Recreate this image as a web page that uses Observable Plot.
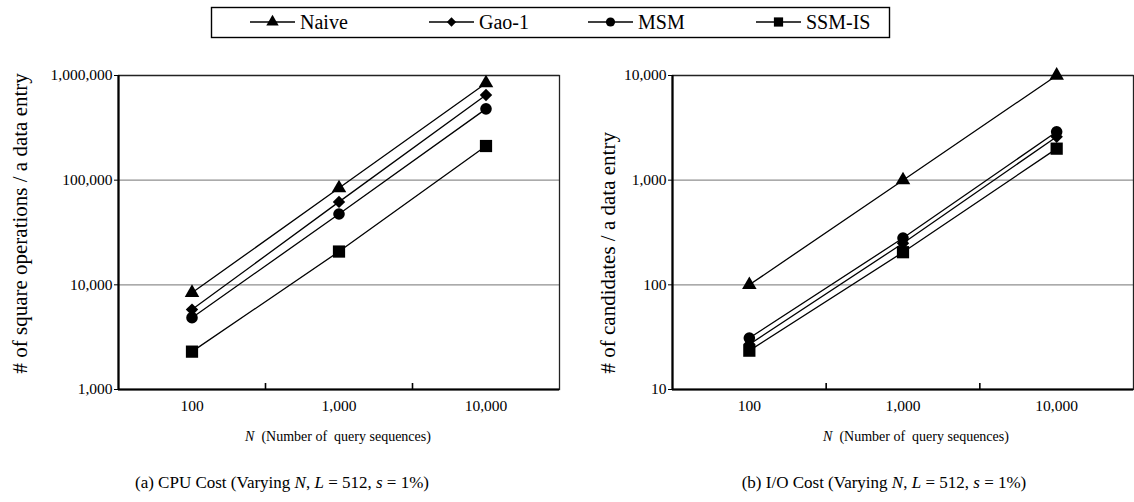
<!DOCTYPE html>
<html>
<head>
<meta charset="utf-8">
<script src="https://cdn.jsdelivr.net/npm/d3@7"></script>
<script src="https://cdn.jsdelivr.net/npm/@observablehq/plot@0.6"></script>
<style>
  html, body { margin: 0; padding: 0; background: #fff; }
  #root { position: relative; width: 1134px; height: 502px; overflow: hidden; font-family: 'Liberation Serif'; color: #000; }
  .abs { position: absolute; }
  .xtitle { position: absolute; font-size: 14px; white-space: pre; text-align: center; width: 300px; }
  .caption { position: absolute; font-size: 17px; white-space: pre; text-align: center; width: 400px; }
</style>
</head>
<body>
<div id="root"></div>
<script>
// ---- data ----
const seriesNames = ["Naive", "Gao-1", "MSM", "SSM-IS"];
const nValues = [100, 1000, 10000];
const cpuNaive = [8400, 84000, 845000];
const cpuGao1 = [5800, 62000, 650000];
const cpuMSM = [4850, 47500, 480000];
const cpuSSMIS = [2300, 20800, 212000];
const ioNaive = [100, 1000, 10000];
const ioGao1 = [27, 250, 2600];
const ioMSM = [31, 280, 2900];
const ioSSMIS = [23.5, 205, 2000];
const cpuTicks = [1000, 10000, 100000, 1000000];
const ioTicks = [10, 100, 1000, 10000];
const cpuYLabel = "# of square operations / a data entry";
const ioYLabel = "# of candidates / a data entry";
const xTitle = "(Number of  query sequences)";
const captionA = ["(a) CPU Cost (Varying ", "N", ", ", "L", " = 512, ", "s", " = 1%)"];
const captionB = ["(b) I/O Cost (Varying ", "N", ", ", "L", " = 512, ", "s", " = 1%)"];

// ---- styling ----
const FONT = "Liberation Serif";
const symbols = {"Naive": "triangle", "Gao-1": "diamond2", "MSM": "circle", "SSM-IS": "square"};
const radii = {"Naive": 5.4, "Gao-1": 5.6, "MSM": 5.8, "SSM-IS": 6.9};
const d3Symbols = {"Naive": d3.symbolTriangle, "Gao-1": d3.symbolDiamond2, "MSM": d3.symbolCircle, "SSM-IS": d3.symbolSquare};

function table(vals) {
  const rows = [];
  seriesNames.forEach((s, i) => nValues.forEach((n, j) => rows.push({series: s, N: n, v: vals[i][j]})));
  return rows;
}
const cpuData = table([cpuNaive, cpuGao1, cpuMSM, cpuSSMIS]);
const ioData = table([ioNaive, ioGao1, ioMSM, ioSSMIS]);

const root = document.getElementById("root");
const xDomain = [nValues[0] / Math.sqrt(10), nValues[2] * Math.sqrt(10)];
const xBoundaries = [nValues[0] * Math.sqrt(10), nValues[1] * Math.sqrt(10)];

function makePlot(data, yTicks, yLabel, opts) {
  const marks = [
    Plot.gridY(yTicks, {stroke: "#8f8f8f", strokeOpacity: 1, strokeWidth: 1.4}),
    Plot.frame({stroke: "#222", strokeWidth: 1.3}),
    Plot.ruleY([yTicks[0]], {stroke: "#000", strokeWidth: 2.2}),
    Plot.ruleX([xDomain[0]], {stroke: "#000", strokeWidth: 2.2}),
    Plot.axisY(yTicks, {tickFormat: d3.format(","), tickSize: 4, tickPadding: 2, fontSize: 15.5, label: null}),
    Plot.axisX(nValues, {tickFormat: d3.format(","), tickSize: 0, tickPadding: 10, fontSize: 15.5, label: null}),
    Plot.axisX(xBoundaries, {tickFormat: () => "", tickSize: -6, strokeWidth: 1.6, label: null}),
    Plot.text([yLabel], {text: d => d, frameAnchor: "bottom-left", rotate: -90, textAnchor: "start", lineAnchor: "middle",
      dx: opts.labelDx, dy: -16, fontSize: 21}),
    Plot.line(data, {x: "N", y: "v", z: "series", stroke: "#000", strokeWidth: 1.3})
  ];
  seriesNames.forEach(s => {
    marks.push(Plot.dot(data.filter(d => d.series === s), {x: "N", y: "v", symbol: () => symbols[s], fill: "#000", stroke: "none", r: radii[s]}));
  });
  const svg = Plot.plot({
    width: opts.width, height: 502,
    marginLeft: opts.marginLeft, marginRight: opts.marginRight, marginTop: 75, marginBottom: 113,
    x: {type: "log", domain: xDomain},
    y: {type: "log", domain: [yTicks[0], yTicks[yTicks.length - 1]]},
    symbol: {type: "identity"},
    marks
  });
  svg.setAttribute("font-family", FONT);
  svg.style.position = "absolute";
  svg.style.left = opts.left + "px";
  svg.style.top = "0px";
  svg.style.background = "transparent";
  root.appendChild(svg);
}

makePlot(cpuData, cpuTicks, cpuYLabel, {left: 0, width: 567, marginLeft: 118, marginRight: 8, labelDx: -98});
makePlot(ioData, ioTicks, ioYLabel, {left: 567, width: 567, marginLeft: 105, marginRight: 1, labelDx: -64});

// x titles
function addXTitle(cx) {
  const div = document.createElement("div");
  div.className = "xtitle";
  div.style.left = (cx - 150) + "px";
  div.style.top = "429px";
  div.innerHTML = "<i>N</i>  " + xTitle;
  root.appendChild(div);
}
addXTitle(338);
addXTitle(916);

// captions
function addCaption(parts, cx) {
  const div = document.createElement("div");
  div.className = "caption";
  div.style.left = (cx - 200) + "px";
  div.style.top = "473px";
  div.innerHTML = parts.map((p, i) => i % 2 === 1 ? "<i>" + p + "</i>" : p).join("");
  root.appendChild(div);
}
addCaption(captionA, 282);
addCaption(captionB, 884);

// legend
const leg = d3.select(root).append("svg").attr("class", "abs").style("left", "0px").style("top", "0px")
  .attr("width", 1134).attr("height", 45).attr("font-family", FONT);
leg.append("rect").attr("x", 211.5).attr("y", 7.5).attr("width", 678).attr("height", 30)
  .attr("fill", "none").attr("stroke", "#000").attr("stroke-width", 1.4);
const itemX = [250, 429, 588, 756];
const legR = {"Naive": 4.6, "Gao-1": 4.2, "MSM": 4.6, "SSM-IS": 5.2};
seriesNames.forEach((s, i) => {
  const g = leg.append("g").attr("transform", `translate(${itemX[i]},22)`);
  g.append("line").attr("x1", 0).attr("x2", 45).attr("stroke", "#000").attr("stroke-width", 1.3);
  g.append("path").attr("transform", "translate(22.5,0)")
    .attr("d", d3.symbol(d3Symbols[s], Math.PI * legR[s] * legR[s])()).attr("fill", "#000");
  g.append("text").attr("x", 50).attr("y", 7).attr("font-size", 20).text(s);
});
</script>
</body>
</html>
